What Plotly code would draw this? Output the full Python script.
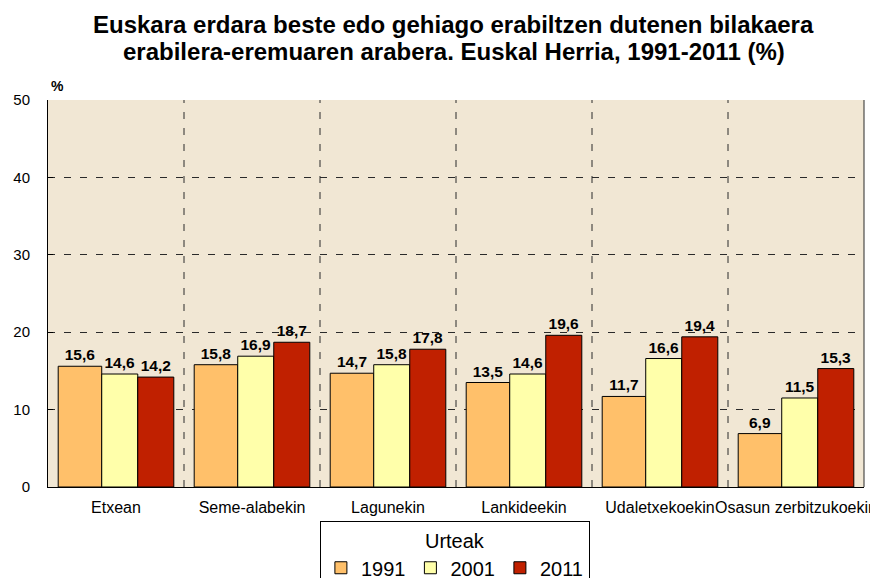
import plotly.graph_objects as go

categories = ["Etxean", "Seme-alabekin", "Lagunekin", "Lankideekin", "Udaletxekoekin", "Osasun zerbitzukoekin"]
years = ["1991", "2001", "2011"]
v1991 = [15.6, 15.8, 14.7, 13.5, 11.7, 6.9]
v2001 = [14.6, 16.9, 15.8, 14.6, 16.6, 11.5]
v2011 = [14.2, 18.7, 17.8, 19.6, 19.4, 15.3]
y_ticks = [0, 10, 20, 30, 40, 50]
title_lines = ["Euskara erdara beste edo gehiago erabiltzen dutenen bilakaera",
               "erabilera-eremuaren arabera. Euskal Herria, 1991-2011 (%)"]

series = [v1991, v2001, v2011]
colors = ["#FFC06A", "#FFFFAA", "#C02000"]
widths = [0.32, 0.265, 0.265]
offsets = [-0.425, -0.105, 0.16]

xs = list(range(len(categories)))
fig = go.Figure()
for name, vals, c, w, o in zip(years, series, colors, widths, offsets):
    fig.add_trace(go.Bar(
        x=xs, y=vals, name=name, width=w, offset=o,
        marker=dict(color=c, line=dict(color="black", width=1)),
        text=[f"{v:.1f}".replace(".", ",") for v in vals],
        textposition="outside", cliponaxis=False,
        textfont=dict(family="Liberation Sans, Arial", size=15.5, color="black", weight="bold"),
    ))

grid_dash = "7px,9px"
shapes = []
for i in range(len(categories) - 1):
    shapes.append(dict(type="line", xref="x", yref="paper", x0=i + 0.5, x1=i + 0.5, y0=0, y1=1,
                       line=dict(color="#2a2a2a", width=1, dash=grid_dash), layer="below"))
shapes.append(dict(type="line", xref="paper", yref="paper", x0=1, x1=1, y0=0, y1=1,
                   line=dict(color="#2a2a2a", width=1)))

annotations = [dict(text="<b>%</b>", xref="paper", yref="paper", x=0.0, y=1.0, xanchor="left",
                    yanchor="bottom", yshift=4, xshift=1, showarrow=False, font=dict(size=14))]
for line, ys in zip(title_lines, [76, 49]):
    annotations.append(dict(text=f"<b>{line}</b>", xref="paper", yref="paper", x=0.4975, y=1.0,
                            xanchor="center", yanchor="middle", yshift=ys, showarrow=False,
                            font=dict(size=24)))

fig.update_layout(
    width=878, height=578,
    barmode="overlay",
    margin=dict(l=40, r=22, t=92, b=99, autoexpand=False),
    paper_bgcolor="white",
    plot_bgcolor="#F1E7D4",
    font=dict(family="Liberation Sans, Arial", color="black"),
    xaxis=dict(range=[-0.5, len(categories) - 0.5], tickvals=xs, ticktext=categories, tickangle=0,
               showgrid=False, showline=True, linecolor="black", linewidth=1, automargin=False,
               ticks="", tickfont=dict(size=16), ticklabelstandoff=6, zeroline=False),
    yaxis=dict(range=[0, 50], tickvals=y_ticks, showgrid=True, gridcolor="#2a2a2a", griddash=grid_dash,
               gridwidth=1, showline=True, linecolor="black", linewidth=1, zeroline=False, automargin=False,
               ticks="inside", ticklen=5, tickcolor="black", tickfont=dict(size=15),
               ticklabelstandoff=14),
    shapes=shapes,
    showlegend=True,
    legend=dict(orientation="h", xref="container", yref="container",
                x=0.509, xanchor="center", y=0.112, yanchor="top",
                bgcolor="white", bordercolor="black", borderwidth=1,
                font=dict(size=20), title=dict(text="Urteak", side="top center", font=dict(size=20)),
                itemwidth=30, tracegroupgap=0),
    annotations=annotations,
)

fig.write_html("out.html")
